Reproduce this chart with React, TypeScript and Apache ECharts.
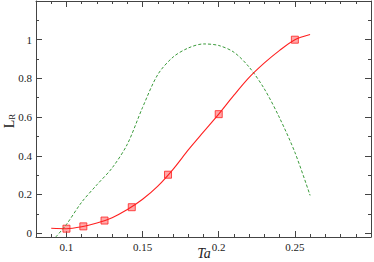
import React, { useEffect, useRef } from "react";
import * as echarts from "echarts";

const redCurve: [number, number][] = [
  [0.09, 0.025], [0.1, 0.023], [0.11, 0.033], [0.12, 0.052], [0.13, 0.08],
  [0.14, 0.122], [0.15, 0.175], [0.16, 0.243], [0.17, 0.33], [0.18, 0.43],
  [0.19, 0.523], [0.2, 0.615], [0.21, 0.713], [0.22, 0.805], [0.23, 0.88],
  [0.24, 0.945], [0.25, 1.0], [0.26, 1.027],
];
const redMarkers: [number, number][] = [
  [0.1, 0.023], [0.1111, 0.035], [0.125, 0.065], [0.1429, 0.134],
  [0.1667, 0.302], [0.2, 0.615], [0.25, 1.0],
];
const greenCurve: [number, number][] = [
  [0.093, -0.02], [0.1, 0.045], [0.11, 0.16], [0.12, 0.25], [0.13, 0.337],
  [0.14, 0.46], [0.15, 0.65], [0.16, 0.82], [0.17, 0.91], [0.18, 0.957],
  [0.19, 0.978], [0.2, 0.97], [0.21, 0.935], [0.22, 0.858], [0.23, 0.745],
  [0.24, 0.595], [0.25, 0.418], [0.26, 0.195],
];
const xMajor = [0.1, 0.15, 0.2, 0.25];
const xMinor = [0.08, 0.09, 0.11, 0.12, 0.13, 0.14, 0.16, 0.17, 0.18, 0.19, 0.21, 0.22, 0.23, 0.24, 0.26, 0.27, 0.28, 0.29];
const yMajor = [0, 0.2, 0.4, 0.6, 0.8, 1];
const yMinor = [0.1, 0.3, 0.5, 0.7, 0.9, 1.1];
const xTitle = "Ta";

const FONT = "'Liberation Serif', 'Times New Roman', serif";
const AXC = "#444";

export default function App() {
  const ref = useRef<HTMLDivElement>(null);
  useEffect(() => {
    if (!ref.current) return;
    const chart = echarts.init(ref.current, null, { renderer: "svg" });
    const xBase = (pos: string, ticks: number[], len: number, labels: boolean, line: boolean) => ({
      type: "value", min: 0.08, max: 0.3, position: pos,
      axisLine: { show: line, onZero: false, lineStyle: { color: AXC, width: 1 } },
      axisTick: { show: true, inside: true, length: len, customValues: ticks, lineStyle: { color: AXC } },
      axisLabel: labels
        ? { show: true, customValues: xMajor, formatter: (v: number) => String(v), fontFamily: FONT, fontSize: 11, color: "#222", margin: 4 }
        : { show: false },
      splitLine: { show: false },
    });
    const yBase = (pos: string, ticks: number[], len: number, labels: boolean, line: boolean) => ({
      type: "value", min: -0.02, max: 1.2, position: pos,
      axisLine: { show: line, onZero: false, lineStyle: { color: AXC, width: 1 } },
      axisTick: { show: true, inside: true, length: len, customValues: ticks, lineStyle: { color: AXC } },
      axisLabel: labels
        ? { show: true, customValues: yMajor, formatter: (v: number) => String(v), fontFamily: FONT, fontSize: 11, color: "#222", margin: 4 }
        : { show: false },
      splitLine: { show: false },
    });
    chart.setOption({
      animation: false,
      grid: { left: 36, right: 3, top: 1, bottom: 25, containLabel: false, outerBoundsMode: "none" },
      xAxis: [
        xBase("bottom", xMajor, 6, true, true),
        xBase("bottom", xMinor, 3, false, false),
        xBase("top", xMajor, 6, false, true),
        xBase("top", xMinor, 3, false, false),
      ],
      yAxis: [
        yBase("left", yMajor, 6, true, true),
        yBase("left", yMinor, 3, false, false),
        yBase("right", yMajor, 6, false, true),
        yBase("right", yMinor, 3, false, false),
      ],
      graphic: [
        {
          type: "text", x: 204, y: 253,
          style: {
            text: xTitle, align: "center", verticalAlign: "middle",
            font: "italic 14px 'Liberation Serif', 'Times New Roman', serif", fill: "#222",
          },
        },
        {
          type: "text", x: 9, y: 121, rotation: Math.PI / 2,
          style: {
            text: "{a|L}{b|R}", align: "center", verticalAlign: "middle",
            rich: {
              a: { fontFamily: FONT, fontSize: 14, fill: "#222" },
              b: { fontFamily: FONT, fontSize: 9, fill: "#222", padding: [6, 0, 0, 0] },
            },
          },
        },
      ],
      series: [
        {
          type: "line", data: greenCurve, smooth: 0.3, showSymbol: false,
          lineStyle: { color: "#3a9a3a", width: 1, type: [3, 2] }, clip: true,
        },
        {
          type: "line", data: redCurve, smooth: 0.3, showSymbol: false,
          lineStyle: { color: "#ff2020", width: 1.1 }, clip: true,
        },
        {
          type: "scatter", data: redMarkers, symbol: "rect", symbolSize: 7,
          itemStyle: { color: "rgba(255,110,110,0.75)", borderColor: "#ff2020", borderWidth: 1 },
        },
      ],
    });
    return () => chart.dispose();
  }, []);
  return <div ref={ref} style={{ width: 374, height: 262, position: "absolute", left: 0, top: 0 }} />;
}
